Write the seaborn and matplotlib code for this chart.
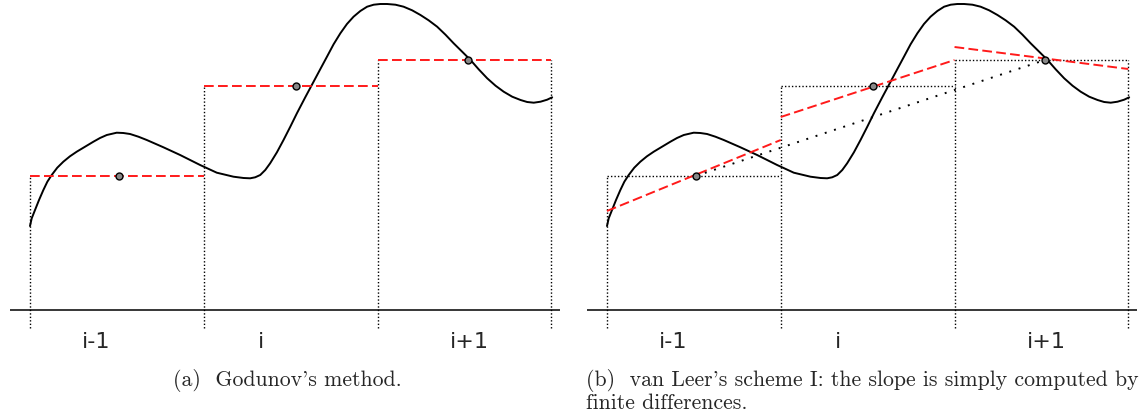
import numpy as np
import pandas as pd
import seaborn as sns
import matplotlib
matplotlib.use("Agg")
import matplotlib.pyplot as plt

# datos (x en unidades de celda, y en unidades arbitrarias)
cell_edges = [0, 1, 2, 3]
cell_avg = [1.34, 2.24, 2.50]
dot_x = [0.51, 1.53, 2.52]
slope_left = [0.99, 1.93, 2.63]
slope_right = [1.70, 2.50, 2.41]
labels = ["i-1", "i", "i+1"]
label_x = [0.38, 1.33, 2.53]

curve_x = [0.0, 0.010, 0.029, 0.052, 0.077, 0.100, 0.125, 0.157, 0.192, 0.230,
           0.269, 0.317, 0.365, 0.403, 0.442, 0.499, 0.537, 0.576, 0.624, 0.672,
           0.768, 0.864, 0.979, 1.075, 1.171, 1.229, 1.267, 1.296, 1.325, 1.354,
           1.382, 1.421, 1.459, 1.498, 1.536, 1.584, 1.632, 1.671, 1.709, 1.747,
           1.786, 1.824, 1.862, 1.901, 1.940, 1.978, 2.016, 2.055, 2.103, 2.150,
           2.199, 2.247, 2.294, 2.343, 2.391, 2.438, 2.487, 2.535, 2.582, 2.631,
           2.679, 2.726, 2.775, 2.823, 2.861, 2.899, 2.938, 2.976, 3.005]
curve_y = [0.84, 0.917, 1.00, 1.10, 1.20, 1.283, 1.35, 1.423, 1.483, 1.537,
           1.583, 1.633, 1.683, 1.72, 1.75, 1.773, 1.77, 1.76, 1.733, 1.70,
           1.627, 1.55, 1.45, 1.373, 1.333, 1.32, 1.317, 1.327, 1.35, 1.40,
           1.467, 1.577, 1.70, 1.833, 1.967, 2.127, 2.283, 2.41, 2.533, 2.657,
           2.767, 2.86, 2.933, 2.99, 3.033, 3.053, 3.06, 3.06, 3.053, 3.033,
           2.997, 2.95, 2.897, 2.833, 2.753, 2.667, 2.583, 2.50, 2.407, 2.317,
           2.243, 2.183, 2.133, 2.10, 2.08, 2.073, 2.083, 2.103, 2.127]

captions = ["(a)  Godunov's method.",
            "(b)  van Leer's scheme I: the slope is simply computed by",
            "finite differences."]

sns.set_style("white")
plt.rcParams['font.family'] = ['DejaVu Sans']

W, H = 1146, 413
fig = plt.figure(figsize=(W / 100, H / 100), dpi=100)
ax1 = fig.add_axes([10 / W, (H - 330) / H, 550 / W, 330 / H])
ax2 = fig.add_axes([587 / W, (H - 330) / H, 550 / W, 330 / H])

curva = pd.DataFrame({"x": curve_x, "y": curve_y})
rojo = "#ff1a1a"
punteado = (0, (1, 1.5))
vtop = [cell_avg[0], max(cell_avg[0], cell_avg[1]), max(cell_avg[1], cell_avg[2]), cell_avg[2]]

for ax in (ax1, ax2):
    ax.set_xlim(-0.115, 3.05)
    ax.set_ylim(-0.20, 3.10)
    ax.axis("off")
    ax.axhline(0, color="black", lw=1.1)
    # bordes verticales de las celdas
    for e, t in zip(cell_edges, vtop):
        ax.plot([e, e], [-0.18, t], color="black", lw=1, ls=punteado, clip_on=False)
    sns.lineplot(data=curva, x="x", y="y", ax=ax, color="black", lw=1.4,
                 sort=False, estimator=None, solid_joinstyle="round",
                 solid_capstyle="round")
    for lab, lx in zip(labels, label_x):
        ax.text(lx, -0.315, lab, ha="center", va="center", fontsize=16,
                clip_on=False)

# (a) Godunov: promedios constantes
for k in range(3):
    ax1.plot([cell_edges[k], cell_edges[k + 1]], [cell_avg[k]] * 2, color=rojo,
             lw=1.4, dashes=(5, 2.2))
ax1.plot(dot_x, cell_avg, ls="none", marker="o", ms=5, mfc="#888888",
         mec="black", mew=1, zorder=5)

# (b) van Leer: pendientes por diferencias finitas
for k in range(3):
    ax2.plot([cell_edges[k], cell_edges[k + 1]], [cell_avg[k]] * 2, color="black",
             lw=1, ls=punteado)
    ax2.plot([cell_edges[k], cell_edges[k + 1]], [slope_left[k], slope_right[k]],
             color=rojo, lw=1.4, dashes=(5, 2.2))
ax2.plot([dot_x[0], dot_x[2]], [cell_avg[0], cell_avg[2]], color="black", lw=1.4,
         ls=(0, (1, 4)))
ax2.plot(dot_x, cell_avg, ls="none", marker="o", ms=5, mfc="#888888",
         mec="black", mew=1, zorder=5)

serif = ['cmr10', 'DejaVu Serif']
fig.text(287 / W, 1 - 381 / H, captions[0], ha="center", va="center",
         fontsize=15.7, family=serif)
fig.text(586 / W, 1 - 381 / H, captions[1], ha="left", va="center",
         fontsize=15.7, family=serif)
fig.text(586 / W, 1 - 403 / H, captions[2], ha="left", va="center",
         fontsize=15.7, family=serif)

fig.savefig("out.png", dpi=100)
